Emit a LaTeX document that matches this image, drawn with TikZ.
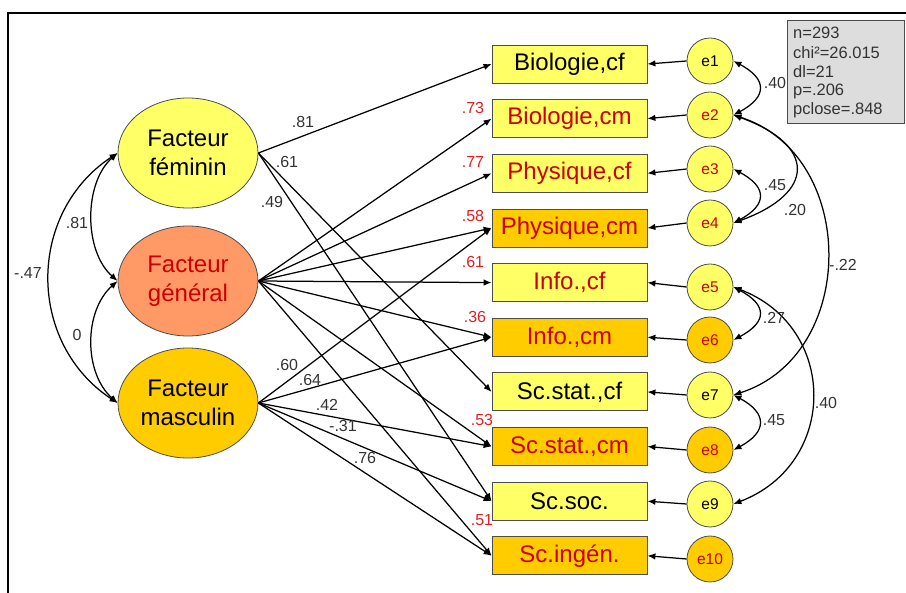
\documentclass[tikz,border=0pt]{standalone}
\usepackage{fontspec}
\setmainfont{Liberation Sans}
\usetikzlibrary{arrows.meta,shapes.geometric}
\definecolor{yel}{HTML}{FFFF66}
\definecolor{ora}{HTML}{FFCC00}
\definecolor{sal}{HTML}{FF9966}
\definecolor{txtred}{HTML}{CC0000}
\definecolor{lblred}{HTML}{E02020}
\definecolor{lblgray}{HTML}{333333}
\definecolor{edgegray}{HTML}{4D4D4D}
\definecolor{statgray}{HTML}{DDDDDD}
\begin{document}
\begin{tikzpicture}[x=1pt,y=-1pt,
  factor/.style={ellipse,draw=edgegray,line width=0.8pt,minimum width=140pt,minimum height=110pt,inner sep=0pt,align=center,font=\fontsize{24}{29}\selectfont},
  obs/.style={rectangle,draw=edgegray,line width=0.8pt,minimum width=155pt,minimum height=38pt,inner sep=0pt,font=\fontsize{24}{27}\selectfont},
  err/.style={circle,draw=edgegray,line width=0.8pt,minimum size=46pt,inner sep=0pt,font=\fontsize{15.5}{18}\selectfont},
  loadarrow/.style={-{Latex[length=8pt,width=6.5pt]},line width=1.25pt},
  cov/.style={{Latex[length=8pt,width=6.5pt]}-{Latex[length=8pt,width=6.5pt]},line width=1.25pt},
  lbl/.style={font=\fontsize{16}{18}\selectfont,text=lblgray,inner sep=0pt},
  rtwo/.style={font=\fontsize{16}{18}\selectfont,text=lblred,inner sep=0pt},
  stat/.style={font=\fontsize{16.5}{19}\selectfont,text=lblgray,inner sep=0pt,anchor=west},
]
\useasboundingbox (0,0) rectangle (906,593);
% frame
\draw[line width=1.5pt] (8,593) -- (8,13) -- (906,13);
% stats box
\node[draw=edgegray,fill=statgray,line width=0.8pt,minimum width=117pt,minimum height=103pt,inner sep=0pt] (stats) at (845.5,71.5) {};
\node[stat] (s1) at (793,33) {n=293};
\node[stat] (s2) at (793,52.5) {chi²=26.015};
\node[stat] (s3) at (793,72) {dl=21};
\node[stat] (s4) at (793,91) {p=.206};
\node[stat] (s5) at (793,110) {pclose=.848};

% factors
\node[factor,fill=yel] (F) at (188,153) {Facteur\\féminin};
\node[factor,fill=sal,text=txtred] (G) at (188,281) {Facteur\\général};
\node[factor,fill=ora] (M) at (188,403) {Facteur\\masculin};

% observed
\node[obs,fill=yel] (o1) at (569.5,64) {Biologie,cf};
\node[obs,fill=yel,text=txtred] (o2) at (569.5,118.6) {Biologie,cm};
\node[obs,fill=yel,text=txtred] (o3) at (569.5,173.3) {Physique,cf};
\node[obs,fill=ora,text=txtred] (o4) at (569.5,228) {Physique,cm};
\node[obs,fill=yel,text=txtred] (o5) at (569.5,282.6) {Info.,cf};
\node[obs,fill=ora,text=txtred] (o6) at (569.5,337.2) {Info.,cm};
\node[obs,fill=yel] (o7) at (569.5,391.9) {Sc.stat.,cf};
\node[obs,fill=ora,text=txtred] (o8) at (569.5,446.5) {Sc.stat.,cm};
\node[obs,fill=yel] (o9) at (569.5,501.2) {Sc.soc.};
\node[obs,fill=ora,text=txtred] (o10) at (569.5,555.8) {Sc.ingén.};

% errors
\node[err,fill=yel] (e1) at (710,61) {e1};
\node[err,fill=yel,text=txtred] (e2) at (710,115) {e2};
\node[err,fill=yel,text=txtred] (e3) at (710,169) {e3};
\node[err,fill=yel,text=txtred] (e4) at (710,223) {e4};
\node[err,fill=yel,text=txtred] (e5) at (710,287) {e5};
\node[err,fill=ora,text=txtred] (e6) at (710,340) {e6};
\node[err,fill=yel] (e7) at (710,395) {e7};
\node[err,fill=ora,text=txtred] (e8) at (710,450) {e8};
\node[err,fill=yel] (e9) at (710,504) {e9};
\node[err,fill=ora,text=txtred] (e10) at (710,559) {e10};

% error arrows
\foreach \i in {1,...,10} {\draw[loadarrow] (e\i.west) -- (o\i.east);}

% loadings
\draw[loadarrow] (F.east) -- (o1.west);
\draw[loadarrow] (F.east) -- (o7.west);
\draw[loadarrow] (F.east) -- (o9.west);
\foreach \j in {2,3,4,5,6,8,10} {\draw[loadarrow] (G.east) -- (o\j.west);}
\foreach \j in {4,6,8,9,10} {\draw[loadarrow] (M.east) -- (o\j.west);}

% loading labels
\node[lbl] (l1) at (303,122) {.81};
\node[lbl] (l2) at (287,162) {.61};
\node[lbl] (l3) at (272,202) {.49};
\node[lbl] (l4) at (287,365) {.60};
\node[lbl] (l5) at (310,380) {.64};
\node[lbl] (l6) at (327,405) {.42};
\node[lbl] (l7) at (343,426) {-.31};
\node[lbl] (l8) at (365,458) {.76};

% R2 labels
\node[rtwo] (r1) at (473,108) {.73};
\node[rtwo] (r2) at (473,162) {.77};
\node[rtwo] (r3) at (473,216) {.58};
\node[rtwo] (r4) at (473,262) {.61};
\node[rtwo] (r5) at (475,317) {.36};
\node[rtwo] (r6) at (482,420) {.53};
\node[rtwo] (r7) at (482,520) {.51};

% factor covariances
\draw[cov] (F.west) .. controls +(-34,30) and +(-34,-30) .. (G.west);
\draw[cov] (G.west) .. controls +(-34,30) and +(-34,-30) .. (M.west);
\draw[cov] (F.west) .. controls +(-91,60) and +(-91,-60) .. (M.west);
\node[lbl] (c1) at (77,223) {.81};
\node[lbl] (c2) at (77,335) {0};
\node[lbl] (c3) at (28,273) {-.47};

% error covariances
\draw[cov] (e1.east) .. controls +(34,18) and +(34,-18) .. (e2.east);
\draw[cov] (e3.east) .. controls +(34,18) and +(34,-18) .. (e4.east);
\draw[cov] (e2.east) .. controls +(83,30) and +(83,-30) .. (e4.east);
\draw[cov] (e2.east) .. controls +(125,40) and +(125,-40) .. (e7.east);
\draw[cov] (e5.east) .. controls +(34,18) and +(34,-18) .. (e6.east);
\draw[cov] (e5.east) .. controls +(105,40) and +(105,-40) .. (e9.east);
\draw[cov] (e7.east) .. controls +(34,18) and +(34,-18) .. (e8.east);
\node[lbl] (d1) at (775,83) {.40};
\node[lbl] (d2) at (775,185) {.45};
\node[lbl] (d3) at (795,210) {.20};
\node[lbl] (d4) at (843,265) {-.22};
\node[lbl] (d5) at (774,318) {.27};
\node[lbl] (d6) at (826,403) {.40};
\node[lbl] (d7) at (774,420) {.45};
\end{tikzpicture}
\end{document}
